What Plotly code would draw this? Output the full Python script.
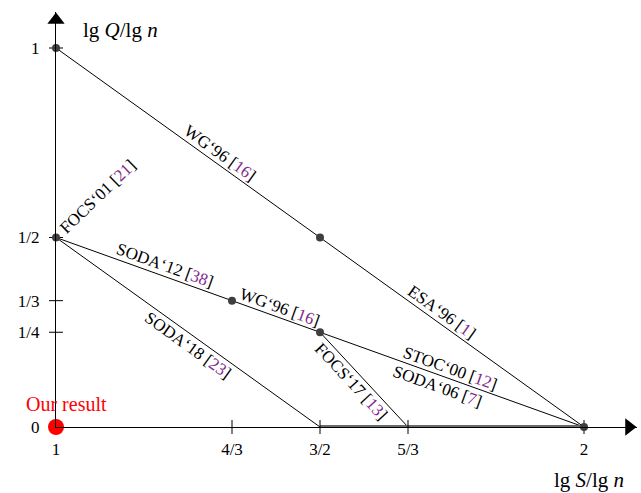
import math
import plotly.graph_objects as go

# tick positions / labels
x_ticks = [1, 4/3, 3/2, 5/3, 2]
x_tick_text = ["1", "4/3", "3/2", "5/3", "2"]
y_ticks = [0, 1/4, 1/3, 1/2, 1]
y_tick_text = ["0", "1/4", "1/3", "1/2", "1"]

# trade-off curves
line_a_x = [1, 1.5, 2]
line_a_y = [1, 0.5, 0]
line_b_x = [1, 4/3, 1.5, 2]
line_b_y = [0.5, 1/3, 0.25, 0]
line_c_x = [1.5, 5/3]
line_c_y = [0.25, 0]
line_d_x = [1, 1.5]
line_d_y = [0.5, 0]
bold_x = [1.5, 2]
bold_y = [0, 0]

dots_x = [1, 1, 4/3, 1.5, 1.5, 2]
dots_y = [1, 0.5, 1/3, 0.5, 0.25, 0]

ours_x = [1]
ours_y = [0]

# labels: name, citation, position along segment, segment endpoints, side
labels = [
    ("WG‘96", "16", 1.30, (1, 1, 2, 0), 1),
    ("ESA‘96", "1", 1.72, (1, 1, 2, 0), 1),
    ("SODA‘12", "38", 1.20, (1, 0.5, 4/3, 1/3), 1),
    ("WG‘96", "16", 1.418, (4/3, 1/3, 1.5, 0.25), 1),
    ("STOC‘00", "12", 1.74, (1.5, 0.25, 2, 0), 1),
    ("SODA‘06", "7", 1.73, (1.5, 0.25, 2, 0), -1),
    ("FOCS‘17", "13", 1.574, (1.5, 0.25, 5/3, 0), -1),
    ("SODA‘18", "23", 1.262, (1, 0.5, 1.5, 0), -1),
]

PURPLE = "#7f2c8c"
FONT = "Liberation Serif"

# plot geometry (px per unit)
L, R, T, B = 56, 4, 12, 66
W, H = 641, 493
sx = 528.0
sy = 379.0
x_max = 1 + (W - L - R) / sx
y_max = (H - T - B) / sy

fig = go.Figure()

line_style = dict(color="black", width=1)
for xs, ys in [(line_a_x, line_a_y), (line_b_x, line_b_y),
               (line_c_x, line_c_y), (line_d_x, line_d_y)]:
    fig.add_trace(go.Scatter(x=xs, y=ys, mode="lines", line=line_style,
                             hoverinfo="skip", cliponaxis=False))

fig.add_trace(go.Scatter(x=bold_x, y=bold_y, mode="lines",
                         line=dict(color="#6b6b6b", width=4), cliponaxis=False))

# crossing tick marks
fig.add_trace(go.Scatter(x=x_ticks, y=[0]*len(x_ticks), mode="markers",
                         marker=dict(symbol="line-ns-open", size=10, color="black",
                                     line=dict(color="black", width=1)),
                         cliponaxis=False))
fig.add_trace(go.Scatter(x=[1]*len(y_ticks), y=y_ticks, mode="markers",
                         marker=dict(symbol="line-ew-open", size=10, color="black",
                                     line=dict(color="black", width=1)),
                         cliponaxis=False))

fig.add_trace(go.Scatter(x=dots_x, y=dots_y, mode="markers",
                         marker=dict(color="#3f3f3f", size=8), cliponaxis=False))
fig.add_trace(go.Scatter(x=ours_x, y=ours_y, mode="markers",
                         marker=dict(color="red", size=16), cliponaxis=False))

# axis arrows
fig.add_trace(go.Scatter(x=[1 + (629 - L) / sx], y=[0], mode="markers",
                         marker=dict(symbol="triangle-right", size=15, color="black"),
                         cliponaxis=False))
fig.add_trace(go.Scatter(x=[1], y=[(427 - 20) / sy], mode="markers",
                         marker=dict(symbol="triangle-up", size=15, color="black"),
                         cliponaxis=False))

annotations = []
for name, cite, xp, (x0, y0, x1, y1), side in labels:
    t = (xp - x0) / (x1 - x0)
    yp = y0 + t * (y1 - y0)
    ang = math.atan2((y0 - y1) * sy, (x1 - x0) * sx)
    d = 10 if side > 0 else 11
    annotations.append(dict(
        x=xp, y=yp, xref="x", yref="y", showarrow=False,
        text=f"{name} [<span style='color:{PURPLE}'>{cite}</span>]",
        textangle=math.degrees(ang),
        xshift=side * d * math.sin(ang), yshift=side * d * math.cos(ang),
        font=dict(family=FONT, size=17, color="black"),
    ))

annotations.append(dict(
    x=1, y=0.5, xref="x", yref="y", showarrow=False,
    text=f"FOCS‘01 [<span style='color:{PURPLE}'>21</span>]",
    textangle=-44, xshift=42, yshift=41,
    font=dict(family=FONT, size=17, color="black"),
))
annotations.append(dict(
    x=1, y=0, xref="x", yref="y", showarrow=False, text="Our result",
    xshift=10, yshift=23, font=dict(family=FONT, size=20, color="red"),
))
annotations.append(dict(
    x=1, y=(427 - 30) / sy, xref="x", yref="y", showarrow=False,
    xanchor="left", xshift=25, text="lg <i>Q</i>/lg <i>n</i>",
    font=dict(family=FONT, size=21, color="black"),
))
annotations.append(dict(
    x=2, y=0, xref="x", yref="y", showarrow=False,
    xanchor="right", xshift=42, yshift=-53, text="lg <i>S</i>/lg <i>n</i>",
    font=dict(family=FONT, size=21, color="black"),
))

fig.update_layout(
    width=W, height=H,
    template="none",
    margin=dict(l=L, r=R, t=T, b=B),
    paper_bgcolor="white", plot_bgcolor="white",
    showlegend=False,
    annotations=annotations,
    xaxis=dict(range=[1, x_max], showgrid=False, zeroline=False, automargin=False,
               showline=True, linecolor="black", linewidth=1,
               tickvals=x_ticks, ticktext=x_tick_text, ticks="",
               ticklabelstandoff=7,
               tickfont=dict(family=FONT, size=17, color="black")),
    yaxis=dict(range=[0, y_max], showgrid=False, zeroline=False, automargin=False,
               showline=True, linecolor="black", linewidth=1,
               tickvals=y_ticks, ticktext=y_tick_text, ticks="",
               ticklabelstandoff=12,
               tickfont=dict(family=FONT, size=17, color="black")),
)

fig.write_html("out.html", config={"displayModeBar": False},
               post_script="document.body.style.margin='0px';document.body.style.overflow='hidden';")
